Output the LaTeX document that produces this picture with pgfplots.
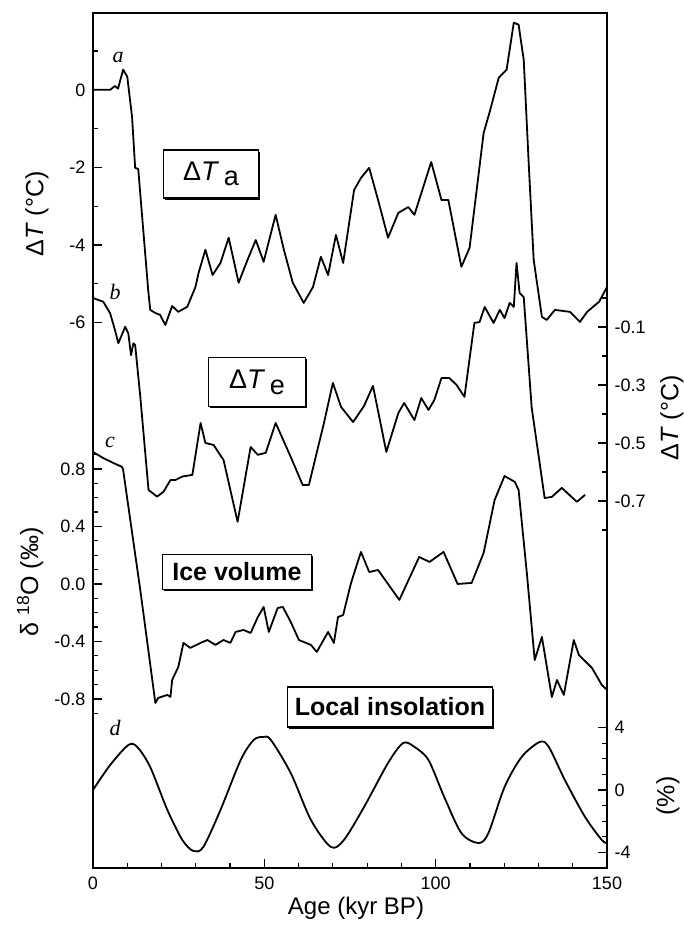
\documentclass[border=0pt]{standalone}
\usepackage{pgfplots}
\pgfplotsset{compat=1.18}
\usepackage{fontspec}
\setmainfont{Liberation Sans}
\newfontfamily\serifit{Liberation Serif}
\usetikzlibrary{shadows}

\pgfplotsset{
  base/.style={
    scale only axis, width=514pt, height=855pt,
    at={(93pt,58pt)}, anchor=south west,
    xmin=0, xmax=150,
    major tick length=9pt, minor tick length=5pt,
    every tick/.style={line width=1.2pt, black},
    axis line style={line width=1.8pt, black},
    tick label style={font=\fontsize{18}{18}\selectfont},
  },
  leftlab/.style={yticklabel style={xshift=-4pt}},
  rightlab/.style={yticklabel style={xshift=4pt}},
  curve/.style={black, line width=1.8pt, mark=none, line join=round},
}

\begin{document}
\begin{tikzpicture}[x=1pt,y=1pt]
\path[use as bounding box] (0,0) rectangle (684,926);

% ---- a: Delta T_a (left axis)
\begin{axis}[base, leftlab, ymin=-20.05, ymax=1.98,
  xtick={0,50,100,150}, xticklabels={0,50,100,150},
  minor xtick={10,20,30,40,60,70,80,90,110,120,130,140},
  xticklabel style={yshift=-5pt},
  xtick pos=left, ytick pos=left,
  ytick={-6,-4,-2,0}, yticklabels={-6,-4,-2,0},
  minor ytick={-5,-3,-1,1},
  tick align=inside]
\addplot[curve] coordinates {
(0,0) (5.0,0) (6.4,0.10) (7.3,0.03) (8.8,0.52) (10.0,0.34) (11.4,-0.70)
(12.3,-2.01) (13.2,-2.04) (16.1,-5.15) (16.7,-5.67) (18.2,-5.75) (19.6,-5.80)
(21.1,-6.06) (23.1,-5.57) (24.9,-5.72) (27.5,-5.59) (29.9,-5.08) (30.8,-4.72)
(32.8,-4.12) (34.9,-4.77) (37.2,-4.46) (39.6,-3.81) (42.5,-4.97) (45.1,-4.38)
(47.5,-3.87) (49.8,-4.43) (53.3,-3.22) (55.7,-4.12) (58.3,-4.97) (61.5,-5.49)
(64.2,-5.08) (66.5,-4.30) (68.6,-4.77) (70.9,-3.74) (73.0,-4.46) (76.2,-2.58)
(78.2,-2.27) (80.6,-2.01) (83.2,-2.84) (86.1,-3.81) (89.1,-3.17) (92.0,-3.02)
(93.8,-3.22) (98.7,-1.86) (101.7,-2.84) (103.7,-2.84) (107.5,-4.56) (109.9,-4.07)
(114.0,-1.11) (115.7,-0.59) (118.4,0.31) (120.7,0.52) (122.8,1.73) (124.2,1.68)
(125.7,0.77) (127.2,-1.98) (128.6,-4.38) (131.0,-5.85) (132.4,-5.93) (134.8,-5.67)
(139.2,-5.72) (142.1,-5.98) (144.2,-5.72) (147.7,-5.46) (150,-5.08)
};
\end{axis}

% ---- b: Delta T_e (right axis)
\begin{axis}[base, rightlab, hide x axis, axis y line*=right, ymin=-1.966, ymax=0.983,
  ytick={-0.7,-0.5,-0.3,-0.1}, yticklabels={-0.7,-0.5,-0.3,-0.1},
  minor ytick={-0.8,-0.6,-0.4,-0.2,0.0}, tick align=inside]
\addplot[curve] coordinates {
(0,0.00) (3.0,-0.013) (5.0,-0.053) (6.4,-0.110) (7.4,-0.156) (9.4,-0.099)
(10.3,-0.122) (11.1,-0.197) (11.8,-0.156) (12.3,-0.162) (13.8,-0.340)
(16.2,-0.662) (18.7,-0.685) (20.6,-0.668) (22.6,-0.628) (24.0,-0.628)
(26.0,-0.616) (29.0,-0.610) (31.4,-0.431) (32.8,-0.500) (35.2,-0.507)
(38.1,-0.559) (42.2,-0.772) (46.0,-0.514) (48.1,-0.541) (50.4,-0.534)
(53.3,-0.431) (57.7,-0.548) (61.2,-0.645) (63.0,-0.645) (67.4,-0.431)
(70.0,-0.293) (72.4,-0.376) (75.9,-0.428) (79.1,-0.372) (81.7,-0.303)
(85.6,-0.531) (89.1,-0.397) (90.8,-0.362) (93.8,-0.421) (95.8,-0.345)
(97.9,-0.386) (99.6,-0.352) (101.7,-0.276) (104.0,-0.276) (106.1,-0.300)
(108.4,-0.341) (111.3,-0.086) (112.8,-0.083) (114.3,-0.031) (116.9,-0.086)
(118.7,-0.041) (120.1,-0.069) (121.6,-0.017) (122.8,-0.031) (123.6,0.121)
(124.5,0.017) (125.7,0.003) (128.0,-0.376) (131.8,-0.690) (133.9,-0.686)
(136.8,-0.655) (141.2,-0.703) (143.6,-0.679)
};
\end{axis}

% ---- c: delta 18O (left axis)
\begin{axis}[base, leftlab, hide x axis, axis y line*=left, ymin=-1.976, ymax=3.972,
  ytick={-0.8,-0.4,0,0.4,0.8}, yticklabels={-0.8,-0.4,0.0,0.4,0.8},
  minor ytick={-0.9,-0.7,-0.6,-0.5,-0.3,-0.2,-0.1,0.1,0.2,0.3,0.5,0.6,0.7,0.9},
  tick align=inside]
\addplot[curve] coordinates {
(0,0.918) (2.9,0.877) (5.9,0.842) (8.5,0.814) (8.8,0.793) (13.8,-0.042)
(18.2,-0.828) (19.0,-0.793) (21.7,-0.772) (22.6,-0.786) (23.1,-0.668)
(24.9,-0.577) (26.4,-0.410) (28.4,-0.445) (31.4,-0.410) (33.4,-0.390)
(35.7,-0.424) (38.1,-0.390) (40.1,-0.410) (41.6,-0.334) (43.9,-0.320)
(46.0,-0.341) (48.1,-0.230) (49.8,-0.160) (51.3,-0.334) (53.9,-0.167)
(55.4,-0.160) (57.7,-0.264) (60.1,-0.390) (63.6,-0.424) (65.3,-0.473)
(68.6,-0.334) (70.3,-0.410) (71.5,-0.230) (73.0,-0.216) (75.3,0.007)
(78.2,0.223) (80.6,0.083) (83.2,0.097) (89.4,-0.111) (95.2,0.188)
(98.2,0.153) (102.3,0.223) (106.4,0.0) (110.5,0.007) (114.0,0.216)
(117.2,0.584) (120.1,0.751) (123.1,0.710) (124.2,0.654) (126.6,0.077)
(128.9,-0.529) (131.0,-0.369) (133.9,-0.786) (135.4,-0.668) (137.4,-0.772)
(140.3,-0.390) (141.8,-0.494) (145.6,-0.584) (148.5,-0.703) (150,-0.737)
};
\end{axis}

% ---- d: local insolation (right axis)
\begin{axis}[base, rightlab, hide x axis, axis y line*=right, ymin=-5.0, ymax=49.8,
  ytick={-4,0,4}, yticklabels={-4,0,4},
  minor ytick={-3,-2,-1,1,2,3}, tick align=inside]
\addplot[curve, smooth, tension=0.5] coordinates {
(0,0) (5.0,1.60) (10.3,2.88) (12.9,2.76) (16.7,1.47) (21.7,-1.28) (26.1,-3.21)
(29.3,-3.91) (32.2,-3.65) (37.2,-1.28) (43.1,1.92) (46.9,3.21) (49.8,3.40)
(51.9,3.21) (57.7,1.09) (63.6,-1.92) (69.4,-3.65) (73.2,-3.21) (79.1,-1.09)
(86.1,1.73) (90.5,3.01) (93.8,2.76) (97.9,1.92) (102.5,-0.45) (107.5,-2.76)
(112.5,-3.40) (115.4,-2.76) (120.1,0.19) (125.1,2.12) (130.4,3.08) (133.0,2.76)
(137.7,0.64) (143.6,-1.73) (148.5,-3.21) (150,-3.40)
};
\end{axis}

% ---- axis titles
\node[rotate=90, font=\fontsize{25}{25}\selectfont] at (37,712) {Δ\textit{T} (°C)};
\node[rotate=90, font=\fontsize{25}{25}\selectfont] at (30,344) {δ \textsuperscript{18}O (‰)};
\node[rotate=90, font=\fontsize{25}{25}\selectfont] at (672,508) {Δ\textit{T} (°C)};
\node[rotate=90, font=\fontsize{25}{25}\selectfont] at (668,130) {(\%)};
\node[font=\fontsize{24}{24}\selectfont] at (356,18) {Age (kyr BP)};

% ---- panel letters
\node[font=\fontsize{22}{22}\serifit\itshape] at (118,869) {a};
\node[font=\fontsize{22}{22}\serifit\itshape] at (115,634) {b};
\node[font=\fontsize{22}{22}\serifit\itshape] at (110,484) {c};
\node[font=\fontsize{22}{22}\serifit\itshape] at (115,198) {d};

% ---- boxed labels
\tikzset{lbl/.style={draw, line width=1.3pt, fill=white, inner sep=2pt,
  drop shadow={shadow xshift=1.8pt, shadow yshift=-2pt, fill=black, opacity=1}}}
\node[lbl, minimum width=95pt, minimum height=48pt, font=\fontsize{27}{27}\selectfont]
  at (211,752) {Δ\textit{T}\,\raisebox{-0.4ex}{a}};
\node[lbl, minimum width=97pt, minimum height=49pt, font=\fontsize{27}{27}\selectfont]
  at (257,544) {Δ\textit{T}\,\raisebox{-0.4ex}{e}};
\node[lbl, minimum width=149pt, minimum height=35pt, font=\fontsize{25}{25}\selectfont\bfseries]
  at (237,354) {Ice volume};
\node[lbl, minimum width=205pt, minimum height=40pt, font=\fontsize{25}{25}\selectfont\bfseries]
  at (390,219) {Local insolation};
\end{tikzpicture}
\end{document}
